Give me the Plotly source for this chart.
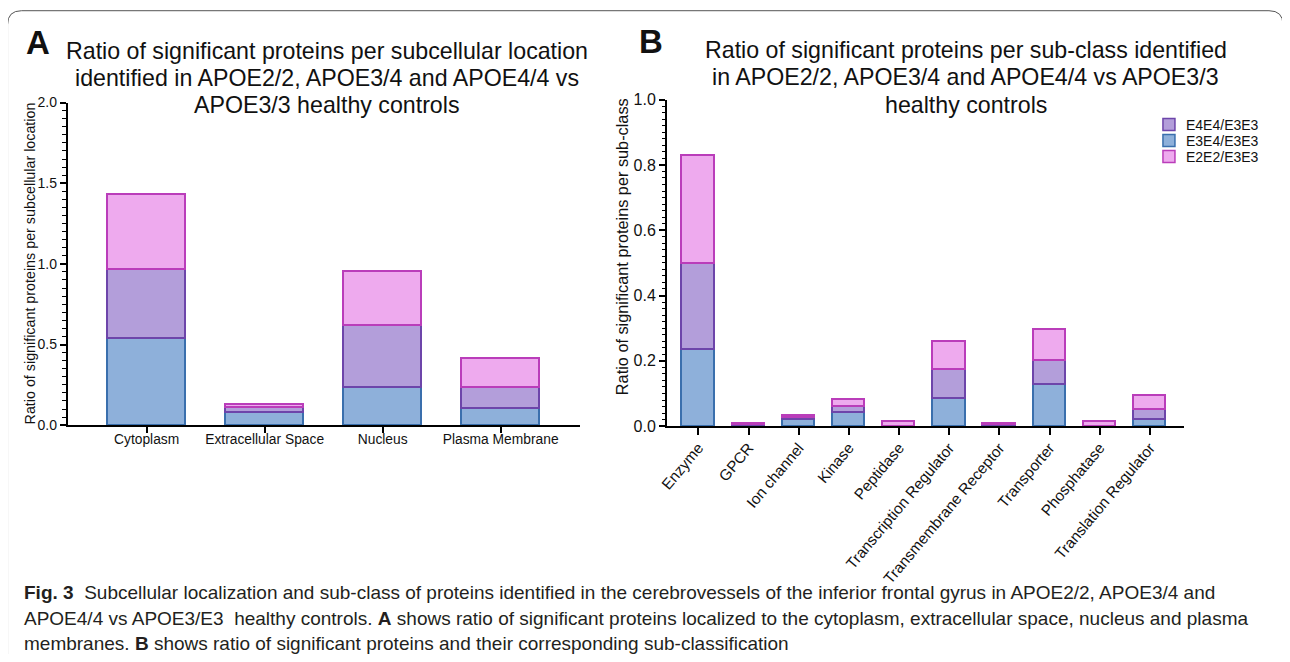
import plotly.graph_objects as go

# ---------------- data ----------------
loc_categories = ["Cytoplasm", "Extracellular Space", "Nucleus", "Plasma Membrane"]
loc_e3e4 = [0.535, 0.078, 0.231, 0.100]
loc_e4e4 = [0.430, 0.028, 0.386, 0.135]
loc_e2e2 = [0.465, 0.021, 0.336, 0.175]

cls_categories = ["Enzyme", "GPCR", "Ion channel", "Kinase", "Peptidase",
                  "Transcription Regulator", "Transmembrane Receptor",
                  "Transporter", "Phosphatase", "Translation Regulator"]
cls_e3e4 = [0.235, 0.002, 0.020, 0.041, 0.000, 0.085, 0.002, 0.128, 0.000, 0.020]
cls_e4e4 = [0.262, 0.003, 0.005, 0.018, 0.000, 0.088, 0.003, 0.072, 0.000, 0.030]
cls_e2e2 = [0.330, 0.003, 0.006, 0.023, 0.015, 0.085, 0.003, 0.095, 0.013, 0.045]

series_names = ["E3E4/E3E3", "E4E4/E3E3", "E2E2/E3E3"]
fill_colors = ["#8EB0DA", "#B39EDA", "#EEAAEE"]
line_colors = ["#3A6FAD", "#6D45AA", "#BA3DBA"]
legend_order = [1, 0, 2]   # legend rows: E4E4, E3E4, E2E2

OFF = 8
W, H = 1290 - 2 * OFF, 662 - 2 * OFF
SX, CX = 0.9926, 9.5
SY, CY = 0.975, 7.5
FONT = "Liberation Sans, Arial, Helvetica, sans-serif"

def px(x):
    return ((x - CX) / SX - OFF) / W

def py(y):
    return 1 - ((y - CY) / SY - OFF) / H

fig = go.Figure()

for i, vals in enumerate([loc_e3e4, loc_e4e4, loc_e2e2]):
    fig.add_trace(go.Bar(
        x=loc_categories, y=vals, name=series_names[i], width=0.66,
        marker=dict(color=fill_colors[i], line=dict(color=line_colors[i], width=1.7)),
        xaxis="x", yaxis="y", showlegend=False))

for i, vals in enumerate([cls_e3e4, cls_e4e4, cls_e2e2]):
    fig.add_trace(go.Bar(
        x=cls_categories, y=vals, name=series_names[i], width=0.645,
        marker=dict(color=fill_colors[i], line=dict(color=line_colors[i], width=1.7)),
        xaxis="x2", yaxis="y2", showlegend=False))

axis_common = dict(showline=True, linecolor="black", linewidth=1.5, showgrid=False,
                   zeroline=False, ticks="outside", tickcolor="black", tickwidth=1.5)

fig.update_layout(
    width=W, height=H, margin=dict(l=0, r=0, t=0, b=0),
    paper_bgcolor="white", plot_bgcolor="white",
    barmode="stack", bargap=0, showlegend=False,
    font=dict(family=FONT, color="#111111"),
    xaxis=dict(axis_common, domain=[px(68), px(580)], range=[-0.67, 3.67],
               anchor="y", ticklen=6, ticklabelstandoff=-5,
               tickfont=dict(family=FONT, size=13.8, color="#111111")),
    yaxis=dict(axis_common, domain=[py(425), py(102)], range=[0, 2.0], anchor="x",
               tickvals=[0, 0.5, 1.0, 1.5, 2.0], ticktext=["0.0", "0.5", "1.0", "1.5", "2.0"],
               ticklen=6, tickfont=dict(family=FONT, size=14, color="#111111"),
               minor=dict(dtick=0.05, ticks="outside", ticklen=3.5, tickcolor="black", tickwidth=1.2)),
    xaxis2=dict(axis_common, domain=[px(667), px(1184)], range=[-0.63, 9.68],
                anchor="y2", ticklen=7, tickangle=-50, ticklabelstandoff=-2,
                tickfont=dict(family=FONT, size=15.3, color="#111111")),
    yaxis2=dict(axis_common, domain=[py(426), py(99)], range=[0, 1.0], anchor="x2",
                tickvals=[0, 0.2, 0.4, 0.6, 0.8, 1.0], ticktext=["0.0", "0.2", "0.4", "0.6", "0.8", "1.0"],
                ticklen=6, tickfont=dict(family=FONT, size=16, color="#111111"),
                minor=dict(dtick=0.02, ticks="outside", ticklen=3.5, tickcolor="black", tickwidth=1.2)),
)

annotations = []
shapes = []

def text(x, y, s, size, bold=False, angle=0, xanchor="center", family=FONT, color="#111111"):
    annotations.append(dict(
        x=px(x), y=py(y), xref="paper", yref="paper", text=("<b>%s</b>" % s) if bold else s,
        showarrow=False, xanchor=xanchor, yanchor="middle", textangle=angle,
        font=dict(family=family, size=size, color=color)))

# Panel letters
text(38, 42, "A", 33, bold=True)
text(651, 41, "B", 33, bold=True)

# Panel titles
title_a = ["Ratio of significant proteins per subcellular location",
           "identified in APOE2/2, APOE3/4 and APOE4/4 vs",
           "APOE3/3 healthy controls"]
title_b = ["Ratio of significant proteins per sub-class identified",
           "in APOE2/2, APOE3/4 and APOE4/4 vs APOE3/3",
           "healthy controls"]
for k, (ya, yb) in enumerate(zip([50, 77, 104], [49, 76, 104])):
    text(327, ya, title_a[k], 23.2)
    text(966, yb, title_b[k], 23.2)

# Y-axis titles
text(30.5, 263, "Ratio of significant proteins per subcellular location", 14.3, angle=-90)
text(623, 246, "Ratio of significant proteins per sub-class", 16.3, angle=-90)

# Legend (panel B)
for row, i in enumerate(legend_order):
    yc = 124 + 16 * row
    shapes.append(dict(type="rect", xref="paper", yref="paper",
                       x0=px(1163), x1=px(1175), y0=py(yc + 6), y1=py(yc - 6),
                       fillcolor=fill_colors[i], line=dict(color=line_colors[i], width=1.5)))
    text(1184, yc, series_names[i], 14, xanchor="left")

# Caption
cap_lines = [
    "<b>Fig. 3</b>  Subcellular localization and sub-class of proteins identified in the cerebrovessels of the inferior frontal gyrus in APOE2/2, APOE3/4 and",
    "APOE4/4 vs APOE3/E3  healthy controls. <b>A</b> shows ratio of significant proteins localized to the cytoplasm, extracellular space, nucleus and plasma",
    "membranes. <b>B</b> shows ratio of significant proteins and their corresponding sub-classification",
]
for k, yy in enumerate([593, 619, 644]):
    text(22, yy, cap_lines[k], 19.0, xanchor="left", color="#231F20")

# Figure frame with rounded top corners
r = 14
x0, x1, y0, y1 = 8, 1283, 10, 700
path = (f"M {px(x0)} {py(y1)} L {px(x0)} {py(y0 + r)} "
        f"Q {px(x0)} {py(y0)} {px(x0 + r)} {py(y0)} "
        f"L {px(x1 - r)} {py(y0)} Q {px(x1)} {py(y0)} {px(x1)} {py(y0 + r)} "
        f"L {px(x1)} {py(y1)}")
shapes.append(dict(type="path", path=path, xref="paper", yref="paper",
                   line=dict(color="#555555", width=1)))

fig.update_layout(annotations=annotations, shapes=shapes)

fig.write_html("out.html")
